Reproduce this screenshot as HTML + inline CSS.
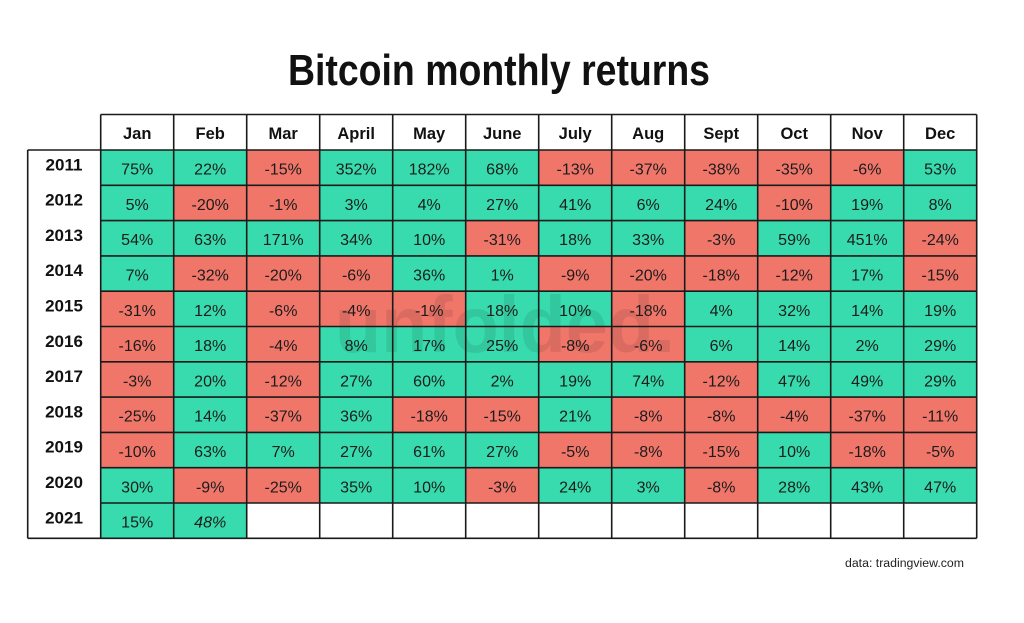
<!DOCTYPE html>
<html><head><meta charset="utf-8"><style>
html,body{margin:0;padding:0;background:#fff;}
svg{display:block;}
.v{font-family:"Liberation Sans",sans-serif;font-size:16px;fill:#1c1c1c;text-anchor:middle;}
.y{font-family:"Liberation Sans",sans-serif;font-size:17px;font-weight:bold;fill:#111;text-anchor:middle;}
.h{font-family:"Liberation Sans",sans-serif;font-size:16.5px;font-weight:bold;fill:#111;text-anchor:middle;}
.G{fill:#37dbad;}
.R{fill:#f0766a;}
</style></head><body>
<svg width="1024" height="623" viewBox="0 0 1024 623" xmlns="http://www.w3.org/2000/svg">
<rect width="1024" height="623" fill="#fff"/>
<text x="288" y="85" font-family="Liberation Sans, sans-serif" font-weight="bold" font-size="44" fill="#111" textLength="422" lengthAdjust="spacingAndGlyphs">Bitcoin monthly returns</text>

<!-- cells -->
<g id="cells">
<g transform="translate(0,150)">
<rect class="G" x="100.7" width="73" height="35.3"/><rect class="G" x="173.7" width="73" height="35.3"/><rect class="R" x="246.7" width="73" height="35.3"/><rect class="G" x="319.7" width="73" height="35.3"/><rect class="G" x="392.7" width="73" height="35.3"/><rect class="G" x="465.7" width="73" height="35.3"/><rect class="R" x="538.7" width="73" height="35.3"/><rect class="R" x="611.7" width="73" height="35.3"/><rect class="R" x="684.7" width="73" height="35.3"/><rect class="R" x="757.7" width="73" height="35.3"/><rect class="R" x="830.7" width="73" height="35.3"/><rect class="G" x="903.7" width="73" height="35.3"/>
</g>
<g transform="translate(0,185.3)">
<rect class="G" x="100.7" width="73" height="35.3"/><rect class="R" x="173.7" width="73" height="35.3"/><rect class="R" x="246.7" width="73" height="35.3"/><rect class="G" x="319.7" width="73" height="35.3"/><rect class="G" x="392.7" width="73" height="35.3"/><rect class="G" x="465.7" width="73" height="35.3"/><rect class="G" x="538.7" width="73" height="35.3"/><rect class="G" x="611.7" width="73" height="35.3"/><rect class="G" x="684.7" width="73" height="35.3"/><rect class="R" x="757.7" width="73" height="35.3"/><rect class="G" x="830.7" width="73" height="35.3"/><rect class="G" x="903.7" width="73" height="35.3"/>
</g>
<g transform="translate(0,220.6)">
<rect class="G" x="100.7" width="73" height="35.3"/><rect class="G" x="173.7" width="73" height="35.3"/><rect class="G" x="246.7" width="73" height="35.3"/><rect class="G" x="319.7" width="73" height="35.3"/><rect class="G" x="392.7" width="73" height="35.3"/><rect class="R" x="465.7" width="73" height="35.3"/><rect class="G" x="538.7" width="73" height="35.3"/><rect class="G" x="611.7" width="73" height="35.3"/><rect class="R" x="684.7" width="73" height="35.3"/><rect class="G" x="757.7" width="73" height="35.3"/><rect class="G" x="830.7" width="73" height="35.3"/><rect class="R" x="903.7" width="73" height="35.3"/>
</g>
<g transform="translate(0,255.9)">
<rect class="G" x="100.7" width="73" height="35.3"/><rect class="R" x="173.7" width="73" height="35.3"/><rect class="R" x="246.7" width="73" height="35.3"/><rect class="R" x="319.7" width="73" height="35.3"/><rect class="G" x="392.7" width="73" height="35.3"/><rect class="G" x="465.7" width="73" height="35.3"/><rect class="R" x="538.7" width="73" height="35.3"/><rect class="R" x="611.7" width="73" height="35.3"/><rect class="R" x="684.7" width="73" height="35.3"/><rect class="R" x="757.7" width="73" height="35.3"/><rect class="G" x="830.7" width="73" height="35.3"/><rect class="R" x="903.7" width="73" height="35.3"/>
</g>
<g transform="translate(0,291.2)">
<rect class="R" x="100.7" width="73" height="35.3"/><rect class="G" x="173.7" width="73" height="35.3"/><rect class="R" x="246.7" width="73" height="35.3"/><rect class="R" x="319.7" width="73" height="35.3"/><rect class="R" x="392.7" width="73" height="35.3"/><rect class="G" x="465.7" width="73" height="35.3"/><rect class="G" x="538.7" width="73" height="35.3"/><rect class="R" x="611.7" width="73" height="35.3"/><rect class="G" x="684.7" width="73" height="35.3"/><rect class="G" x="757.7" width="73" height="35.3"/><rect class="G" x="830.7" width="73" height="35.3"/><rect class="G" x="903.7" width="73" height="35.3"/>
</g>
<g transform="translate(0,326.5)">
<rect class="R" x="100.7" width="73" height="35.3"/><rect class="G" x="173.7" width="73" height="35.3"/><rect class="R" x="246.7" width="73" height="35.3"/><rect class="G" x="319.7" width="73" height="35.3"/><rect class="G" x="392.7" width="73" height="35.3"/><rect class="G" x="465.7" width="73" height="35.3"/><rect class="R" x="538.7" width="73" height="35.3"/><rect class="R" x="611.7" width="73" height="35.3"/><rect class="G" x="684.7" width="73" height="35.3"/><rect class="G" x="757.7" width="73" height="35.3"/><rect class="G" x="830.7" width="73" height="35.3"/><rect class="G" x="903.7" width="73" height="35.3"/>
</g>
<g transform="translate(0,361.8)">
<rect class="R" x="100.7" width="73" height="35.3"/><rect class="G" x="173.7" width="73" height="35.3"/><rect class="R" x="246.7" width="73" height="35.3"/><rect class="G" x="319.7" width="73" height="35.3"/><rect class="G" x="392.7" width="73" height="35.3"/><rect class="G" x="465.7" width="73" height="35.3"/><rect class="G" x="538.7" width="73" height="35.3"/><rect class="G" x="611.7" width="73" height="35.3"/><rect class="R" x="684.7" width="73" height="35.3"/><rect class="G" x="757.7" width="73" height="35.3"/><rect class="G" x="830.7" width="73" height="35.3"/><rect class="G" x="903.7" width="73" height="35.3"/>
</g>
<g transform="translate(0,397.1)">
<rect class="R" x="100.7" width="73" height="35.3"/><rect class="G" x="173.7" width="73" height="35.3"/><rect class="R" x="246.7" width="73" height="35.3"/><rect class="G" x="319.7" width="73" height="35.3"/><rect class="R" x="392.7" width="73" height="35.3"/><rect class="R" x="465.7" width="73" height="35.3"/><rect class="G" x="538.7" width="73" height="35.3"/><rect class="R" x="611.7" width="73" height="35.3"/><rect class="R" x="684.7" width="73" height="35.3"/><rect class="R" x="757.7" width="73" height="35.3"/><rect class="R" x="830.7" width="73" height="35.3"/><rect class="R" x="903.7" width="73" height="35.3"/>
</g>
<g transform="translate(0,432.4)">
<rect class="R" x="100.7" width="73" height="35.3"/><rect class="G" x="173.7" width="73" height="35.3"/><rect class="G" x="246.7" width="73" height="35.3"/><rect class="G" x="319.7" width="73" height="35.3"/><rect class="G" x="392.7" width="73" height="35.3"/><rect class="G" x="465.7" width="73" height="35.3"/><rect class="R" x="538.7" width="73" height="35.3"/><rect class="R" x="611.7" width="73" height="35.3"/><rect class="R" x="684.7" width="73" height="35.3"/><rect class="G" x="757.7" width="73" height="35.3"/><rect class="R" x="830.7" width="73" height="35.3"/><rect class="R" x="903.7" width="73" height="35.3"/>
</g>
<g transform="translate(0,467.7)">
<rect class="G" x="100.7" width="73" height="35.3"/><rect class="R" x="173.7" width="73" height="35.3"/><rect class="R" x="246.7" width="73" height="35.3"/><rect class="G" x="319.7" width="73" height="35.3"/><rect class="G" x="392.7" width="73" height="35.3"/><rect class="R" x="465.7" width="73" height="35.3"/><rect class="G" x="538.7" width="73" height="35.3"/><rect class="G" x="611.7" width="73" height="35.3"/><rect class="R" x="684.7" width="73" height="35.3"/><rect class="G" x="757.7" width="73" height="35.3"/><rect class="G" x="830.7" width="73" height="35.3"/><rect class="G" x="903.7" width="73" height="35.3"/>
</g>
<g transform="translate(0,503)">
<rect class="G" x="100.7" width="73" height="35.3"/><rect class="G" x="173.7" width="73" height="35.3"/>
</g>
</g>

<!-- watermark -->
<text x="335" y="352" font-family="Liberation Sans, sans-serif" font-weight="bold" font-size="80" fill="#000" fill-opacity="0.09" textLength="340" lengthAdjust="spacingAndGlyphs">unfolded.</text>

<!-- header labels -->
<g class="h">
<text x="137.2" y="139">Jan</text><text x="210.2" y="139">Feb</text><text x="283.2" y="139">Mar</text><text x="356.2" y="139">April</text><text x="429.2" y="139">May</text><text x="502.2" y="139">June</text><text x="575.2" y="139">July</text><text x="648.2" y="139">Aug</text><text x="721.2" y="139">Sept</text><text x="794.2" y="139">Oct</text><text x="867.2" y="139">Nov</text><text x="940.2" y="139">Dec</text>
</g>

<!-- year labels -->
<g class="y">
<text x="64" y="170.3">2011</text><text x="64" y="205.6">2012</text><text x="64" y="240.9">2013</text><text x="64" y="276.2">2014</text><text x="64" y="311.5">2015</text><text x="64" y="346.8">2016</text><text x="64" y="382.1">2017</text><text x="64" y="417.4">2018</text><text x="64" y="452.7">2019</text><text x="64" y="488">2020</text><text x="64" y="523.3">2021</text>
</g>

<!-- values -->
<g class="v">
<g transform="translate(0,174.6)"><text x="137.2">75%</text><text x="210.2">22%</text><text x="283.2">-15%</text><text x="356.2">352%</text><text x="429.2">182%</text><text x="502.2">68%</text><text x="575.2">-13%</text><text x="648.2">-37%</text><text x="721.2">-38%</text><text x="794.2">-35%</text><text x="867.2">-6%</text><text x="940.2">53%</text></g>
<g transform="translate(0,209.9)"><text x="137.2">5%</text><text x="210.2">-20%</text><text x="283.2">-1%</text><text x="356.2">3%</text><text x="429.2">4%</text><text x="502.2">27%</text><text x="575.2">41%</text><text x="648.2">6%</text><text x="721.2">24%</text><text x="794.2">-10%</text><text x="867.2">19%</text><text x="940.2">8%</text></g>
<g transform="translate(0,245.2)"><text x="137.2">54%</text><text x="210.2">63%</text><text x="283.2">171%</text><text x="356.2">34%</text><text x="429.2">10%</text><text x="502.2">-31%</text><text x="575.2">18%</text><text x="648.2">33%</text><text x="721.2">-3%</text><text x="794.2">59%</text><text x="867.2">451%</text><text x="940.2">-24%</text></g>
<g transform="translate(0,280.5)"><text x="137.2">7%</text><text x="210.2">-32%</text><text x="283.2">-20%</text><text x="356.2">-6%</text><text x="429.2">36%</text><text x="502.2">1%</text><text x="575.2">-9%</text><text x="648.2">-20%</text><text x="721.2">-18%</text><text x="794.2">-12%</text><text x="867.2">17%</text><text x="940.2">-15%</text></g>
<g transform="translate(0,315.8)"><text x="137.2">-31%</text><text x="210.2">12%</text><text x="283.2">-6%</text><text x="356.2">-4%</text><text x="429.2">-1%</text><text x="502.2">18%</text><text x="575.2">10%</text><text x="648.2">-18%</text><text x="721.2">4%</text><text x="794.2">32%</text><text x="867.2">14%</text><text x="940.2">19%</text></g>
<g transform="translate(0,351.1)"><text x="137.2">-16%</text><text x="210.2">18%</text><text x="283.2">-4%</text><text x="356.2">8%</text><text x="429.2">17%</text><text x="502.2">25%</text><text x="575.2">-8%</text><text x="648.2">-6%</text><text x="721.2">6%</text><text x="794.2">14%</text><text x="867.2">2%</text><text x="940.2">29%</text></g>
<g transform="translate(0,386.4)"><text x="137.2">-3%</text><text x="210.2">20%</text><text x="283.2">-12%</text><text x="356.2">27%</text><text x="429.2">60%</text><text x="502.2">2%</text><text x="575.2">19%</text><text x="648.2">74%</text><text x="721.2">-12%</text><text x="794.2">47%</text><text x="867.2">49%</text><text x="940.2">29%</text></g>
<g transform="translate(0,421.7)"><text x="137.2">-25%</text><text x="210.2">14%</text><text x="283.2">-37%</text><text x="356.2">36%</text><text x="429.2">-18%</text><text x="502.2">-15%</text><text x="575.2">21%</text><text x="648.2">-8%</text><text x="721.2">-8%</text><text x="794.2">-4%</text><text x="867.2">-37%</text><text x="940.2">-11%</text></g>
<g transform="translate(0,457)"><text x="137.2">-10%</text><text x="210.2">63%</text><text x="283.2">7%</text><text x="356.2">27%</text><text x="429.2">61%</text><text x="502.2">27%</text><text x="575.2">-5%</text><text x="648.2">-8%</text><text x="721.2">-15%</text><text x="794.2">10%</text><text x="867.2">-18%</text><text x="940.2">-5%</text></g>
<g transform="translate(0,492.3)"><text x="137.2">30%</text><text x="210.2">-9%</text><text x="283.2">-25%</text><text x="356.2">35%</text><text x="429.2">10%</text><text x="502.2">-3%</text><text x="575.2">24%</text><text x="648.2">3%</text><text x="721.2">-8%</text><text x="794.2">28%</text><text x="867.2">43%</text><text x="940.2">47%</text></g>
<g transform="translate(0,527.6)"><text x="137.2">15%</text><text x="210.2" font-style="italic">48%</text></g>
</g>

<!-- grid lines -->
<g stroke="#1a1a1a" stroke-width="1.6" fill="none">
<line x1="100.7" y1="114.5" x2="976.7" y2="114.5"/>
<line x1="27.7" y1="150" x2="976.7" y2="150"/>
<line x1="100.7" y1="185.3" x2="976.7" y2="185.3"/>
<line x1="100.7" y1="220.6" x2="976.7" y2="220.6"/>
<line x1="100.7" y1="255.9" x2="976.7" y2="255.9"/>
<line x1="100.7" y1="291.2" x2="976.7" y2="291.2"/>
<line x1="100.7" y1="326.5" x2="976.7" y2="326.5"/>
<line x1="100.7" y1="361.8" x2="976.7" y2="361.8"/>
<line x1="100.7" y1="397.1" x2="976.7" y2="397.1"/>
<line x1="100.7" y1="432.4" x2="976.7" y2="432.4"/>
<line x1="100.7" y1="467.7" x2="976.7" y2="467.7"/>
<line x1="100.7" y1="503" x2="976.7" y2="503"/>
<line x1="27.7" y1="538.3" x2="976.7" y2="538.3"/>
<line x1="27.7" y1="150" x2="27.7" y2="538.3"/>
<line x1="100.7" y1="114.5" x2="100.7" y2="538.3"/>
<line x1="173.7" y1="114.5" x2="173.7" y2="538.3"/>
<line x1="246.7" y1="114.5" x2="246.7" y2="538.3"/>
<line x1="319.7" y1="114.5" x2="319.7" y2="538.3"/>
<line x1="392.7" y1="114.5" x2="392.7" y2="538.3"/>
<line x1="465.7" y1="114.5" x2="465.7" y2="538.3"/>
<line x1="538.7" y1="114.5" x2="538.7" y2="538.3"/>
<line x1="611.7" y1="114.5" x2="611.7" y2="538.3"/>
<line x1="684.7" y1="114.5" x2="684.7" y2="538.3"/>
<line x1="757.7" y1="114.5" x2="757.7" y2="538.3"/>
<line x1="830.7" y1="114.5" x2="830.7" y2="538.3"/>
<line x1="903.7" y1="114.5" x2="903.7" y2="538.3"/>
<line x1="976.7" y1="114.5" x2="976.7" y2="538.3"/>
</g>

<text x="845" y="567" font-family="Liberation Sans, sans-serif" font-size="11.5" fill="#222" textLength="119" lengthAdjust="spacingAndGlyphs">data: tradingview.com</text>
</svg>
</body></html>
